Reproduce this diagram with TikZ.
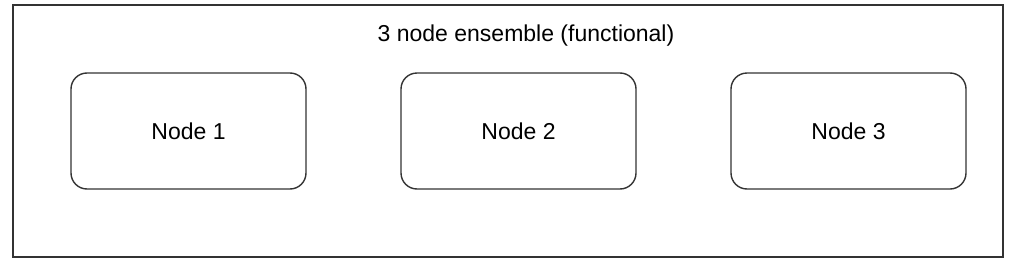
\documentclass[tikz,border=0pt]{standalone}
\usepackage{fontspec}
\setmainfont{Liberation Sans}
\usepackage{tikz}
\usetikzlibrary{positioning}

\begin{document}
\begin{tikzpicture}[x=1pt, y=-1pt,
    member/.style={draw=black!80, line width=1.4pt, rounded corners=16pt,
                   minimum width=235pt, minimum height=116pt, inner sep=0pt,
                   font=\fontsize{23}{27}\selectfont},
    ensemble/.style={draw=black!80, line width=2pt, inner sep=0pt}
  ]
    \useasboundingbox (0,0) rectangle (1023,268);
    \node[ensemble, minimum width=990pt, minimum height=252pt] (frame) at (508,131) {};
    \node[anchor=base, font=\fontsize{23}{27}\selectfont] (title) at (526,41) {3 node ensemble (functional)};
    % the three members
    \node[member] (node1) at (188.5,131) {Node 1};
    \node[member] (node2) at (518.5,131) {Node 2};
    \node[member] (node3) at (848.5,131) {Node 3};
  \end{tikzpicture}
\end{document}
